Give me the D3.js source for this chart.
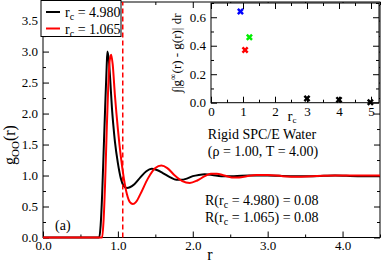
<!DOCTYPE html>
<html>
<head>
<meta charset="utf-8">
<script src="https://cdn.jsdelivr.net/npm/d3@7"></script>
<style>
  body { margin: 0; background: #fff; }
  svg text { font-family: "Liberation Serif", "Times New Roman", Times, "DejaVu Serif", serif; fill: #000; }
</style>
</head>
<body>
<svg id="chart" width="382" height="263"></svg>
<script>
// g_OO(r), r_c = 4.980 (black)
var rBlack = [0, 0.75, 0.77, 0.79, 0.81, 0.83, 0.85, 0.86, 0.88, 0.90, 0.92, 0.94, 0.96, 1.00, 1.04, 1.08, 1.12, 1.16, 1.22, 1.30, 1.38, 1.45, 1.52, 1.60, 1.70, 1.78, 1.84, 1.92, 2.00, 2.08, 2.16, 2.26, 2.38, 2.55, 2.75, 3.0, 3.3, 3.6, 3.9, 4.2, 4.5];
var gBlack = [0, 0, 0.2, 0.7, 1.4, 2.1, 2.75, 3.0, 2.85, 2.5, 2.1, 1.8, 1.55, 1.2, 0.95, 0.83, 0.80, 0.81, 0.86, 0.97, 1.07, 1.11, 1.09, 1.04, 0.97, 0.93, 0.93, 0.95, 0.99, 1.01, 1.02, 1.01, 0.99, 0.99, 1.00, 1.00, 0.99, 0.99, 1.00, 0.99, 0.99];
// g_OO(r), r_c = 1.065 (red)
var rRed = [0, 0.79, 0.81, 0.83, 0.85, 0.87, 0.89, 0.91, 0.93, 0.96, 1.00, 1.04, 1.08, 1.12, 1.16, 1.20, 1.24, 1.30, 1.40, 1.50, 1.58, 1.66, 1.76, 1.86, 1.96, 2.06, 2.16, 2.24, 2.32, 2.42, 2.52, 2.62, 2.72, 2.85, 3.0, 3.2, 3.4, 3.6, 3.9, 4.2, 4.5];
var gRed = [0, 0, 0.3, 0.9, 1.7, 2.4, 2.85, 2.95, 2.8, 2.3, 1.75, 1.3, 0.95, 0.7, 0.57, 0.54, 0.57, 0.7, 0.95, 1.12, 1.16, 1.12, 1.0, 0.91, 0.88, 0.92, 0.99, 1.03, 1.03, 1.0, 0.97, 0.97, 0.99, 1.01, 1.01, 0.99, 0.98, 0.99, 1.00, 1.00, 1.00];
var cutoff = 1.065;

// inset: integral |g_inf - g| vs r_c
var insetRc = [0.92, 1.065, 1.2, 3.0, 4.0, 4.98];
var insetVal = [0.64, 0.37, 0.46, 0.03, 0.02, 0.003];
var insetColors = ["#0000ff", "#ff0000", "#00ee00", "#000000", "#000000", "#000000"];

var legendLabels = ["4.980", "1.065"];
var legendColors = ["#000000", "#ff0000"];
var rValues = ["0.08", "0.08"];

var serif = '"Liberation Serif", "Times New Roman", Times, serif';

var svg = d3.select("#chart");

var x = d3.scaleLinear().domain([0, 4.5]).range([43, 380]);
var y = d3.scaleLinear().domain([0, 3.8]).range([237.5, 2]);

var ix = d3.scaleLinear().domain([0, 5.25]).range([211, 379]);
var iy = d3.scaleLinear().domain([0, 0.7]).range([102.7, 3]);

function drawFrame(g, xs, ys, opts) {
	var x0 = xs.range()[0], x1 = xs.range()[1], y0 = ys.range()[0], y1 = ys.range()[1];
	g.append("rect").attr("x", x0).attr("y", y1).attr("width", x1 - x0).attr("height", y0 - y1)
		.attr("fill", opts.fill || "none").attr("stroke", "#000").attr("stroke-width", 1);

	g.append("g").attr("transform", "translate(0," + y0 + ")")
		.call(d3.axisBottom(xs).tickValues(opts.xMajor).tickSize(-6).tickPadding(opts.xPad).tickFormat(opts.xFmt));
	g.append("g").attr("transform", "translate(0," + y0 + ")")
		.call(d3.axisBottom(xs).tickValues(opts.xMinor).tickSize(-3).tickFormat(""));
	g.append("g").attr("transform", "translate(0," + y1 + ")")
		.call(d3.axisTop(xs).tickValues(opts.xMajor).tickSize(-6).tickFormat(""));
	g.append("g").attr("transform", "translate(0," + y1 + ")")
		.call(d3.axisTop(xs).tickValues(opts.xMinor).tickSize(-3).tickFormat(""));

	g.append("g").attr("transform", "translate(" + x0 + ",0)")
		.call(d3.axisLeft(ys).tickValues(opts.yMajor).tickSize(-6).tickPadding(opts.yPad).tickFormat(opts.yFmt));
	g.append("g").attr("transform", "translate(" + x0 + ",0)")
		.call(d3.axisLeft(ys).tickValues(opts.yMinor).tickSize(-3).tickFormat(""));
	g.append("g").attr("transform", "translate(" + x1 + ",0)")
		.call(d3.axisRight(ys).tickValues(opts.yMajor).tickSize(-6).tickFormat(""));
	g.append("g").attr("transform", "translate(" + x1 + ",0)")
		.call(d3.axisRight(ys).tickValues(opts.yMinor).tickSize(-3).tickFormat(""));

	g.selectAll(".domain").remove();
	g.selectAll(".tick line").attr("stroke", "#000").attr("stroke-width", 1);
	g.selectAll(".tick text").attr("font-size", opts.fontSize);
	return g;
}

// main plot
var main = svg.append("g");
drawFrame(main, x, y, {
	xMajor: [0, 1, 2, 3, 4], xMinor: [0.5, 1.5, 2.5, 3.5, 4.5],
	yMajor: [0, 0.5, 1, 1.5, 2, 2.5, 3, 3.5], yMinor: d3.range(0.25, 3.8, 0.5),
	xFmt: d3.format(".1f"), yFmt: d3.format(".1f"),
	xPad: 3, yPad: 5, fontSize: 13
});

var line = d3.line().curve(d3.curveMonotoneX);
main.append("path")
	.attr("d", line(rBlack.map(function(r, i) { return [x(r), y(gBlack[i])]; })))
	.attr("fill", "none").attr("stroke", "#000").attr("stroke-width", 2);
main.append("path")
	.attr("d", line(rRed.map(function(r, i) { return [x(r), y(gRed[i])]; })))
	.attr("fill", "none").attr("stroke", "#ff0000").attr("stroke-width", 2);

main.append("line")
	.attr("x1", x(cutoff)).attr("x2", x(cutoff)).attr("y1", y.range()[0]).attr("y2", y.range()[1])
	.attr("stroke", "#ff0000").attr("stroke-width", 1.5).attr("stroke-dasharray", "5,3");

// axis labels
main.append("text").attr("x", 210).attr("y", 260).attr("text-anchor", "middle")
	.attr("font-size", 16).text("r");
var yl = main.append("text").attr("transform", "translate(15,145) rotate(-90)")
	.attr("text-anchor", "middle").attr("font-size", 16);
yl.append("tspan").text("g");
yl.append("tspan").attr("dy", 4).attr("font-size", 11).text("OO");
yl.append("tspan").attr("dy", -4).text("(r)");

// legend
var leg = main.append("g");
leg.append("rect").attr("x", 41).attr("y", 0.5).attr("width", 80).attr("height", 36)
	.attr("fill", "#fff").attr("stroke", "#000").attr("stroke-width", 1);
legendLabels.forEach(function(lab, i) {
	var yy = 12 + i * 16.5;
	leg.append("line").attr("x1", 46).attr("x2", 60).attr("y1", yy).attr("y2", yy)
		.attr("stroke", legendColors[i]).attr("stroke-width", 2);
	var t = leg.append("text").attr("x", 65).attr("y", yy + 5).attr("font-size", 14);
	t.append("tspan").text("r");
	t.append("tspan").attr("dy", 3).attr("font-size", 10).text("c");
	t.append("tspan").attr("dy", -3).text(" = " + lab);
});

// annotations
main.append("text").attr("x", 262).attr("y", 139).attr("text-anchor", "middle")
	.attr("font-size", 14).text("Rigid SPC/E Water");
main.append("text").attr("x", 263).attr("y", 156).attr("text-anchor", "middle")
	.attr("font-size", 14).text("(\u03c1 = 1.00, T = 4.00)");
legendLabels.forEach(function(lab, i) {
	var t = main.append("text").attr("x", 205).attr("y", 205 + i * 17).attr("font-size", 14);
	t.append("tspan").text("R(r");
	t.append("tspan").attr("dy", 3).attr("font-size", 10).text("c");
	t.append("tspan").attr("dy", -3).text(" = " + lab + ") = " + rValues[i]);
});
main.append("text").attr("x", 55).attr("y", 230).attr("font-size", 14).text("(a)");

// inset
var inset = svg.append("g");
drawFrame(inset, ix, iy, {
	xMajor: [0, 1, 2, 3, 4, 5], xMinor: [0.5, 1.5, 2.5, 3.5, 4.5],
	yMajor: [0, 0.2, 0.4, 0.6], yMinor: [0.1, 0.3, 0.5, 0.7],
	xFmt: d3.format("d"), yFmt: d3.format(".1f"),
	xPad: 4, yPad: 5, fontSize: 13, fill: "#fff"
});

var sym = d3.symbol().type(d3.symbolCross).size(30);
inset.selectAll(".pt").data(insetRc).enter().append("path")
	.attr("class", "pt")
	.attr("transform", function(d, i) { return "translate(" + ix(d) + "," + iy(insetVal[i]) + ") rotate(45)"; })
	.attr("d", sym)
	.attr("fill", function(d, i) { return insetColors[i]; });

var ixl = inset.append("text").attr("x", 292).attr("y", 121).attr("text-anchor", "middle").attr("font-size", 15);
ixl.append("tspan").text("r");
ixl.append("tspan").attr("dy", 2).attr("font-size", 9).text("c");

var iyl = inset.append("text").attr("transform", "translate(181,53) rotate(-90)")
	.attr("text-anchor", "middle").attr("font-size", 13);
iyl.append("tspan").text("\u222b|g");
iyl.append("tspan").attr("dy", -5).attr("font-size", 9).text("\u221e");
iyl.append("tspan").attr("dy", 5).text("(r) - g(r)| dr");

svg.selectAll("text").style("font-family", serif);
</script>
</body>
</html>
